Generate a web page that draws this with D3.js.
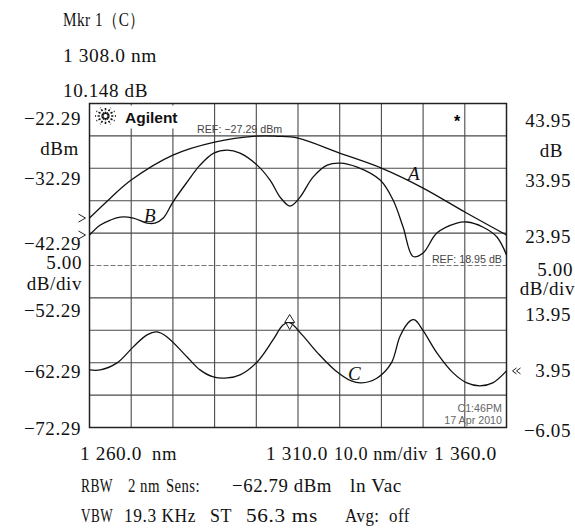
<!DOCTYPE html>
<html>
<head>
<meta charset="utf-8">
<script src="https://cdn.jsdelivr.net/npm/d3@7"></script>
<style>
body { margin: 0; background: #fff; }
svg { display: block; }
.lbl { font-family: "Liberation Serif", "Times New Roman", serif; font-size: 19px; fill: #111; letter-spacing: 0.6px; }
.it { font-family: "Liberation Serif", "Times New Roman", serif; font-size: 19px; font-style: italic; fill: #111; }
.small { font-family: "Liberation Sans", Arial, sans-serif; font-size: 10.7px; fill: #444; }
</style>
</head>
<body>
<svg id="chart"></svg>
<script>
const width = 575,
    height = 529;

const plot = {left: 89.5, right: 506.5, top: 103.5, bottom: 427.5};

// wavelength axis (nm), 10 nm/div
const xTicks = [1260, 1270, 1280, 1290, 1300, 1310, 1320, 1330, 1340, 1350, 1360];

// left axis dBm, right axis dB (5 dB/div)
const leftTicks = [-22.29, -32.29, -42.29, -52.29, -62.29, -72.29];
const rightTicks = [43.95, 33.95, 23.95, 13.95, 3.95, -6.05];
const refLeft = -27.29,
    refRight = 18.95;

// trace A (dBm)
const wlA = [1260, 1265, 1270, 1280, 1290, 1300, 1305, 1310, 1320, 1330, 1340, 1350, 1360];
const traceA = [-39.97, -36.9, -34.11, -30.26, -28.25, -27.33, -27.35, -27.64, -29.95, -32.26, -35.34, -39.04, -42.59];

// trace B (dBm)
const wlB = [1260, 1262.6, 1265, 1267.4, 1270.5, 1273.8, 1275.7, 1277.7, 1280, 1283.4, 1286.5, 1289.8, 1293,
    1296.1, 1300.2, 1303.3, 1305.7, 1308.1, 1310.5, 1313.6, 1317, 1320.1, 1324.2, 1329.7, 1332.8, 1335.2,
    1337.6, 1340, 1343.3, 1348.1, 1350.5, 1354.3, 1357.7, 1360];
const traceB = [-42.59, -41.05, -40.28, -39.81, -39.97, -40.74, -40.74, -39.97, -37.5, -34.42, -31.8, -29.95, -29.49,
    -29.95, -31.8, -34.11, -36.73, -38.12, -36.73, -33.65, -31.8, -31.49, -32.11, -34.11, -37.19, -41.35,
    -45.9, -45.36, -42.28, -40.74, -40.58, -41.35, -42.89, -45.66];

// trace C (dB)
const wlC = [1260, 1262.6, 1266.6, 1270.5, 1273.8, 1276.2, 1278.6, 1283.4, 1286.5, 1289.7, 1293, 1296.1, 1300.2,
    1304, 1306.4, 1308, 1311, 1314.7, 1318.8, 1322.8, 1325.2, 1329, 1332.4, 1334.5, 1336.9, 1338, 1339.9,
    1343.3, 1347.2, 1350.5, 1353.6, 1356.7, 1360];
const traceC = [2.84, 2.84, 3.92, 6.39, 8.24, 8.7, 7.93, 4.84, 2.84, 1.76, 1.6, 2.07, 4.07,
    7.46, 9.78, 10.148, 8.24, 5.47, 2.84, 1.14, 0.83, 1.6, 3.92, 8.08, 10.4, 10.55, 9.01,
    5.47, 2.38, 0.83, 0.37, 0.83, 2.68];

const marker = {wl: 1308.0, value: 10.148};

const svg = d3.select("#chart").attr("width", width).attr("height", height);
svg.append("rect").attr("width", width).attr("height", height).attr("fill", "#fff");

const x = d3.scaleLinear().domain([1260, 1360]).range([plot.left, plot.right]);
const yL = d3.scaleLinear().domain([-72.29, -22.29]).range([plot.bottom, plot.top]);
const yR = d3.scaleLinear().domain([-6.05, 43.95]).range([plot.bottom, plot.top]);
// the printed labels sit a little below their grid lines, unevenly
const yLabL = d3.scaleLinear()
    .domain([-72.29, -62.29, -52.29, -42.29, -32.29, -22.29])
    .range([435, 378, 317, 250, 185, 125]);
const yLabR = d3.scaleLinear()
    .domain([-6.05, 3.95, 13.95, 23.95, 33.95, 43.95])
    .range([437, 377, 321, 243, 187, 127]);

// grid
const grid = svg.append("g");
grid.selectAll(".vgrid").data(xTicks.slice(1, -1)).enter().append("line")
    .attr("x1", d => x(d)).attr("x2", d => x(d))
    .attr("y1", plot.top).attr("y2", plot.bottom)
    .attr("stroke", "#4a4a4a").attr("stroke-width", 1.1);

const hLines = d3.range(1, 10).map(i => -6.05 + 5 * i);
grid.selectAll(".hgrid").data(hLines).enter().append("line")
    .attr("x1", plot.left).attr("x2", plot.right)
    .attr("y1", d => yR(d)).attr("y2", d => yR(d))
    .attr("stroke", d => Math.abs(d - refRight) < 0.01 ? "#777" : "#4a4a4a")
    .attr("stroke-width", 1.1)
    .attr("stroke-dasharray", d => Math.abs(d - refRight) < 0.01 ? "5,2" : null);

// logo box hides the grid
svg.append("rect").attr("x", plot.left + 1).attr("y", plot.top + 2)
    .attr("width", 96).attr("height", 23).attr("fill", "#fff");

svg.append("rect")
    .attr("x", plot.left).attr("y", plot.top)
    .attr("width", plot.right - plot.left).attr("height", plot.bottom - plot.top)
    .attr("fill", "none").attr("stroke", "#222").attr("stroke-width", 1.5);

// logo
const logo = svg.append("g").attr("transform", "translate(105.5,116)");
d3.range(12).forEach(i => {
    let a = i * Math.PI / 6;
    logo.append("line")
        .attr("x1", 2 * Math.cos(a)).attr("y1", 2 * Math.sin(a))
        .attr("x2", 10.5 * Math.cos(a)).attr("y2", 9.5 * Math.sin(a))
        .attr("stroke", "#111").attr("stroke-width", 1.6)
        .attr("stroke-dasharray", "2.2,1.5");
});
svg.append("text").attr("x", 125).attr("y", 123)
    .style("font-family", "'Liberation Sans', Arial, sans-serif")
    .style("font-weight", "bold").style("font-size", "15.5px").style("fill", "#111")
    .text("Agilent");

svg.append("text").attr("class", "small").attr("x", 197).attr("y", yL(refLeft) - 3)
    .text("REF: \u221227.29 dBm");
svg.append("text").attr("class", "small").attr("x", 502).attr("y", yR(refRight) - 3)
    .attr("text-anchor", "end").text("REF: 18.95 dB");
svg.append("text").attr("class", "small").attr("x", 502).attr("y", 412)
    .attr("text-anchor", "end").style("fill", "#666").text("C1:46PM");
svg.append("text").attr("class", "small").attr("x", 502).attr("y", 424)
    .attr("text-anchor", "end").style("fill", "#666").text("17 Apr 2010");
svg.append("text").attr("x", 457).attr("y", 127).attr("text-anchor", "middle")
    .style("font-family", "'Liberation Sans', Arial, sans-serif")
    .style("font-size", "16px").style("font-weight", "bold").text("*");

// traces
const lineL = d3.line().x(d => x(d[0])).y(d => yL(d[1])).curve(d3.curveCatmullRom.alpha(0.5));
const lineR = d3.line().x(d => x(d[0])).y(d => yR(d[1])).curve(d3.curveCatmullRom.alpha(0.5));

svg.append("path").datum(d3.zip(wlA, traceA)).attr("d", lineL)
    .attr("fill", "none").attr("stroke", "#111").attr("stroke-width", 1.3);
svg.append("path").datum(d3.zip(wlB, traceB)).attr("d", lineL)
    .attr("fill", "none").attr("stroke", "#111").attr("stroke-width", 1.3);
svg.append("path").datum(d3.zip(wlC, traceC)).attr("d", lineR)
    .attr("fill", "none").attr("stroke", "#111").attr("stroke-width", 1.3);

// trace labels
svg.append("text").attr("class", "it").attr("x", 408).attr("y", 180).text("A");
svg.append("text").attr("class", "it").attr("x", 144).attr("y", 222).text("B");
svg.append("text").attr("class", "it").attr("x", 348).attr("y", 380).text("C");

// start arrows on the left edge
[traceA[0], traceB[0]].forEach(v => {
    let yy = yL(v);
    svg.append("path")
        .attr("d", `M${plot.left - 11},${yy - 4}L${plot.left - 4},${yy}L${plot.left - 11},${yy + 4}`)
        .attr("fill", "none").attr("stroke", "#222").attr("stroke-width", 1);
});
// scale arrow for trace C on the right
{
    let yy = yR(traceC[traceC.length - 1]);
    [0, 4].forEach(o => {
        svg.append("path")
            .attr("d", `M${plot.right + 10 + o},${yy - 3}L${plot.right + 6 + o},${yy}L${plot.right + 10 + o},${yy + 3}`)
            .attr("fill", "none").attr("stroke", "#222").attr("stroke-width", 1);
    });
}

// marker 1
{
    let mx = x(marker.wl), my = yR(marker.value);
    svg.append("path").attr("d", `M${mx - 5},${my}L${mx + 5},${my}L${mx},${my - 8}Z`)
        .attr("fill", "#fff").attr("stroke", "#222").attr("stroke-width", 1);
    svg.append("path").attr("d", `M${mx - 4},${my}L${mx + 4},${my}L${mx},${my + 7}Z`)
        .attr("fill", "none").attr("stroke", "#222").attr("stroke-width", 1);
}

// left axis labels
svg.selectAll(".ltick").data(leftTicks).enter().append("text")
    .attr("class", "lbl").attr("text-anchor", "end")
    .attr("x", 81).attr("y", d => yLabL(d))
    .text(d => d3.format(".2f")(d).replace("-", "\u2212"));
svg.append("text").attr("class", "lbl").attr("text-anchor", "end").attr("x", 79).attr("y", 155).text("dBm");
svg.append("text").attr("class", "lbl").attr("text-anchor", "end").attr("x", 82).attr("y", 269).text("5.00");
svg.append("text").attr("class", "lbl").attr("text-anchor", "end").attr("x", 82).attr("y", 290).text("dB/div");

// right axis labels
svg.selectAll(".rtick").data(rightTicks).enter().append("text")
    .attr("class", "lbl").attr("text-anchor", "end")
    .attr("x", 571).attr("y", d => yLabR(d))
    .text(d => d3.format(".2f")(d).replace("-", "\u2212"));
svg.append("text").attr("class", "lbl").attr("text-anchor", "end").attr("x", 563).attr("y", 157).text("dB");
svg.append("text").attr("class", "lbl").attr("text-anchor", "end").attr("x", 573).attr("y", 276).text("5.00");
svg.append("text").attr("class", "lbl").attr("text-anchor", "end").attr("x", 575).attr("y", 295).text("dB/div");

// marker readout on top
const header = ["Mkr 1\uff08C\uff09", "1 308.0 nm", "10.148 dB"];
const headerWidth = [82, 94, 85];
svg.selectAll(".hdr").data(header).enter().append("text")
    .attr("class", "lbl").attr("x", 63).attr("y", (d, i) => 26 + i * 35.5)
    .attr("textLength", (d, i) => headerWidth[i]).attr("lengthAdjust", "spacingAndGlyphs")
    .text(d => d);

// settings rows at the bottom: text, left x, printed width
const footer = [
    [["1 260.0", 80, 62], ["nm", 152, 25], ["1 310.0", 266, 62], ["10.0 nm/div", 334, 94], ["1 360.0", 434, 63]],
    [["RBW", 81, 32], ["2 nm", 128, 32], ["Sens:", 166, 34], ["\u221262.79 dBm", 232, 100], ["ln Vac", 350, 52]],
    [["VBW", 81, 32], ["19.3 KHz", 124, 72], ["ST", 210, 22], ["56.3 ms", 246, 72], ["Avg:  off", 345, 65]]
];
const rowY = [460, 492, 522];
footer.forEach((row, r) => {
    svg.selectAll(".f" + r).data(row).enter().append("text")
        .attr("class", "lbl").attr("x", d => d[1]).attr("y", rowY[r])
        .attr("textLength", d => d[2]).attr("lengthAdjust", "spacingAndGlyphs")
        .style("white-space", "pre")
        .text(d => d[0]);
});
</script>
</body>
</html>
